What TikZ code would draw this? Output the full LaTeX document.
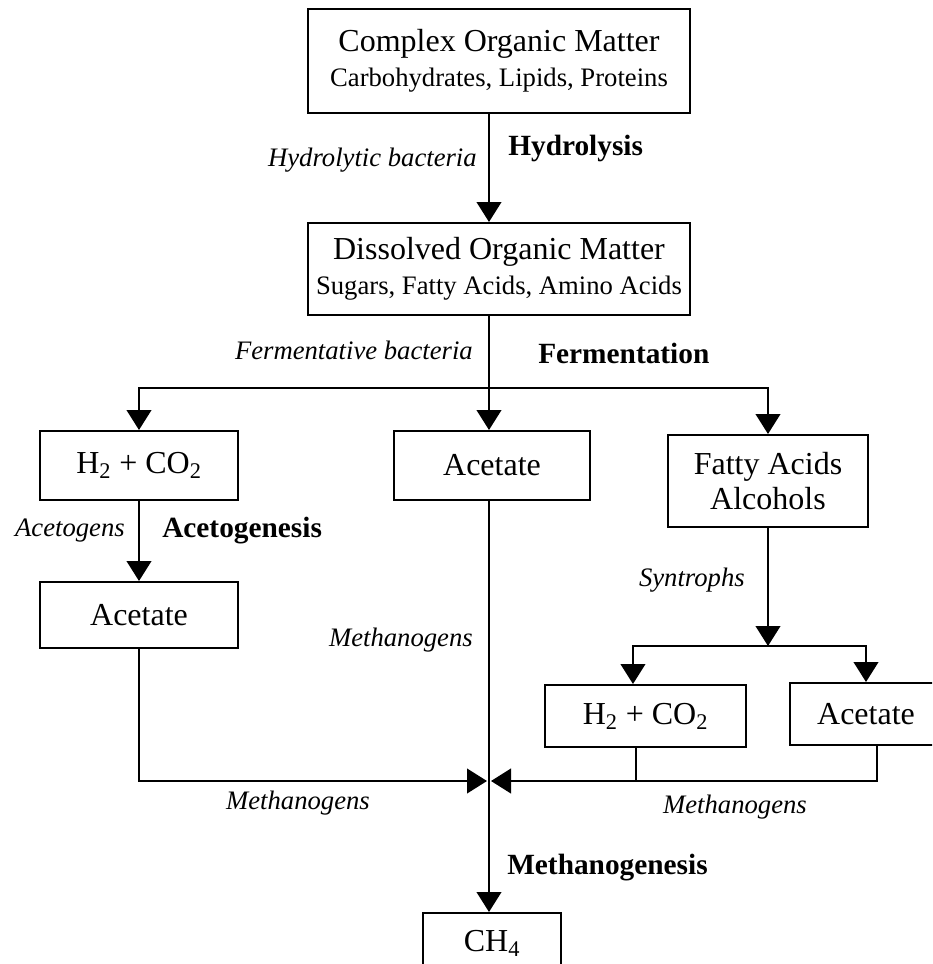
\documentclass[tikz,border=0pt]{standalone}
\usepackage{fontspec}
\setmainfont{Liberation Serif}
\usetikzlibrary{arrows.meta, positioning}
\newcommand{\smalltext}{\fontsize{20}{24}\selectfont}
\tikzset{
    % Process boxes - plain black frames
    stage/.style={rectangle, draw=black, line width=1.5pt, inner sep=0pt, align=center, font=\fontsize{24}{26}\selectfont},
    % Connectors with big filled heads
    flow/.style={line width=1.5pt, -{Triangle[length=15pt, width=18.5pt]}},
    link/.style={line width=1.5pt},
    % Organism labels - italic
    microbe/.style={font=\fontsize{20}{24}\selectfont\itshape, inner sep=0pt},
    % Process names - bold
    process/.style={font=\fontsize{22}{26}\selectfont\bfseries, inner sep=0pt}
}

\begin{document}
\begin{tikzpicture}[x=0.75pt, y=-0.75pt]
    % --- Setup Canvas ---
    \useasboundingbox (0,0) rectangle (932,964);
    \clip (0,0) rectangle (932,964);

    % --- Set up coordinates ---
    \coordinate (axis) at (489,0);    % main vertical line
    \coordinate (fork) at (489,388);  % fermentation split
    \coordinate (sfork) at (768,646); % syntroph split
    \coordinate (merge) at (489,781); % methanogen merge

    % --- Draw Boxes ---
    \node[stage, minimum width=286.5pt, minimum height=78pt] (com) at (499,61)
        {Complex Organic Matter\\{\smalltext Carbohydrates, Lipids, Proteins}};
    \node[stage, minimum width=286.5pt, minimum height=69pt] (dom) at (499,269)
        {Dissolved Organic Matter\\{\smalltext Sugars, Fatty Acids, Amino Acids}};

    \node[stage, minimum width=148.5pt, minimum height=51.75pt] (hco) at (139,465.5) {H\textsubscript{2} + CO\textsubscript{2}};
    \node[stage, minimum width=147pt, minimum height=51.75pt] (ace) at (492,465.5) {Acetate};
    \node[stage, minimum width=150pt, minimum height=69pt] (fat) at (768,481) {Fatty Acids\\Alcohols};

    \node[stage, minimum width=148.5pt, minimum height=49.5pt] (aceL) at (139,615) {Acetate};
    \node[stage, minimum width=150.75pt, minimum height=46.5pt] (hcoR) at (645.5,716) {H\textsubscript{2} + CO\textsubscript{2}};
    \node[stage, minimum width=114pt, minimum height=46.5pt] (aceR) at (866,714) {Acetate};

    \node[stage, minimum width=103.5pt, minimum height=45pt] (ch4) at (492,943) {CH\textsubscript{4}};

    % --- Draw Connectors ---
    \draw[flow] (com.south -| axis) -- (dom.north -| axis);
    \draw[link] (dom.south -| axis) -- (fork);
    \draw[flow] (fork) -- (ace.north -| axis);
    \draw[flow] (fork) -| (hco.north);
    \draw[flow] (fork) -| (fat.north);

    \draw[flow] (hco.south) -- (aceL.north);
    \draw[flow] (fat.south) -- (sfork);
    \draw[flow] (sfork) -| ([xshift=-9.4pt]hcoR.north);
    \draw[flow] (sfork) -| (aceR.north);

    % Methanogen paths into the main line
    \draw[flow] (aceL.south) |- ([xshift=-1.5pt]merge);
    \draw[flow] ([xshift=8pt]aceR.south) |- ([xshift=1.5pt]merge);
    \draw[link] ([xshift=-7pt]hcoR.south) -- ([xshift=-7pt]hcoR.south |- merge);
    \draw[flow] (ace.south -| axis) -- (ch4.north -| axis);

    % --- Labels ---
    \node[microbe, anchor=east] (hydb) at (477,160) {Hydrolytic bacteria};
    \node[process, anchor=west] (hyd) at (508,148) {Hydrolysis};
    \node[microbe, anchor=east] (fermb) at (473,350) {Fermentative bacteria};
    \node[process, anchor=west] (ferm) at (538,353) {Fermentation};
    \node[microbe, anchor=east] (acg) at (125,531) {Acetogens};
    \node[process, anchor=west] (acgs) at (162,531) {Acetogenesis};
    \node[microbe, anchor=east] (syn) at (745,580) {Syntrophs};
    \node[microbe, anchor=east] (mthA) at (473,640) {Methanogens};
    \node[microbe] (mthL) at (298,803) {Methanogens};
    \node[microbe] (mthR) at (735,807) {Methanogens};
    \node[process, anchor=west] (mthg) at (507,868) {Methanogenesis};

\end{tikzpicture}
\end{document}
